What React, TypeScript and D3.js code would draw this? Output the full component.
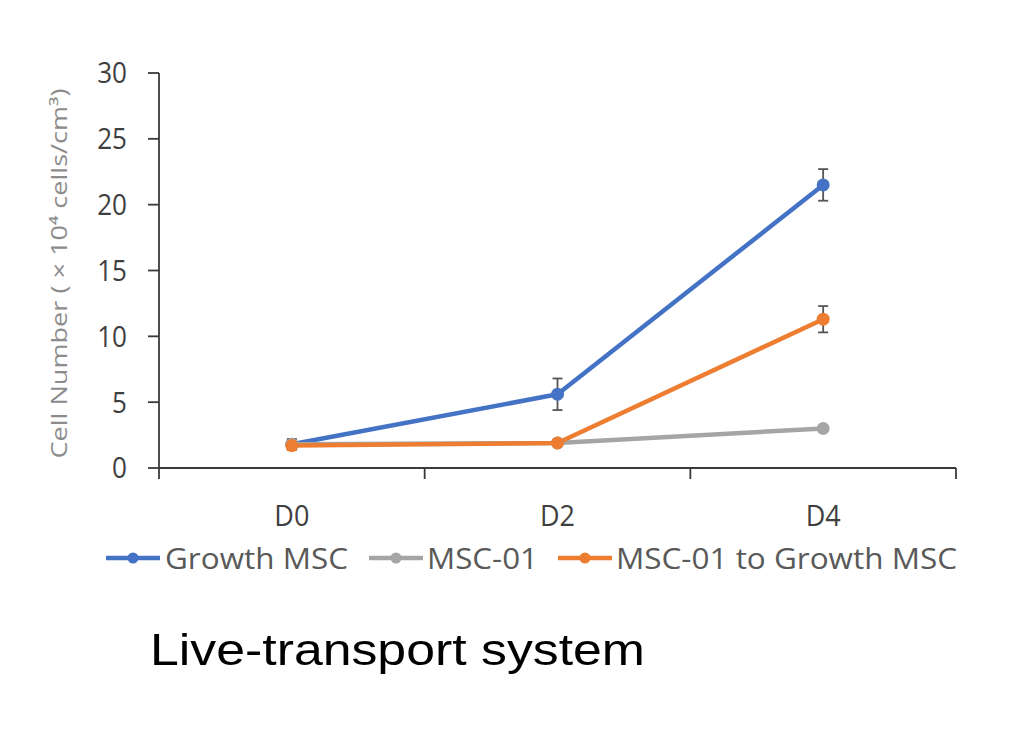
import React from "react";
import * as d3 from "d3";

const categories = ["D0", "D2", "D4"];
const seriesNames = ["Growth MSC", "MSC-01", "MSC-01 to Growth MSC"];
const seriesColors = ["#4472C4", "#A5A5A5", "#ED7D31"];
const growthMSC = [1.8, 5.6, 21.5];
const growthMSCErr = [0.4, 1.2, 1.2];
const msc01 = [1.8, 1.9, 3.0];
const msc01Err = [0.2, 0.2, 0.2];
const msc01ToGrowth = [1.7, 1.9, 11.3];
const msc01ToGrowthErr = [0.3, 0.2, 1.0];
const yTicks = [0, 5, 10, 15, 20, 25, 30];
const yLabel = "Cell Number ( \u00d7 10\u2074 cells/cm\u00b3)";
const title = "Live-transport system";

const series = [
  { name: seriesNames[0], color: seriesColors[0], values: growthMSC, err: growthMSCErr },
  { name: seriesNames[1], color: seriesColors[1], values: msc01, err: msc01Err },
  { name: seriesNames[2], color: seriesColors[2], values: msc01ToGrowth, err: msc01ToGrowthErr },
];

export default function App() {
  const W = 1024, H = 739;
  const x0 = 159, x1 = 956, yTop = 73, yBot = 468;
  const x = d3.scaleBand<string>().domain(categories).range([x0, x1]);
  const y = d3.scaleLinear().domain([0, 30]).range([yBot, yTop]);
  const cx = (c: string) => (x(c) as number) + x.bandwidth() / 2;
  const line = d3.line<number>().x((_, i) => cx(categories[i])).y((v) => y(v));
  const font = "Open Sans, sans-serif";
  const axisColor = "#3a3a3a";
  const tickColor = "#3f3f3f";

  const legendItems = [
    { lx: 106, tx: 165, tw: 183 },
    { lx: 369, tx: 427, tw: 111 },
    { lx: 558, tx: 616, tw: 341 },
  ];

  return (
    <svg width={W} height={H} style={{ position: "absolute", left: 0, top: 0, background: "#fff" }}>
      <rect x={0} y={0} width={W} height={H} fill="#fff" />
      {/* y axis */}
      <line x1={x0} x2={x0} y1={yTop} y2={yBot} stroke={axisColor} strokeWidth={1.8} />
      {yTicks.map((t) => (
        <g key={t}>
          <line x1={x0 - 11} x2={x0} y1={y(t)} y2={y(t)} stroke={axisColor} strokeWidth={1.8} />
          <text x={127} y={y(t) + 10.5} textAnchor="end" fontFamily={font} fontSize={29} fill={tickColor}
            transform={`translate(127, 0) scale(0.9, 1) translate(-127, 0)`}>
            {t}
          </text>
        </g>
      ))}
      {/* x axis */}
      <line x1={x0} x2={x1} y1={yBot} y2={yBot} stroke={axisColor} strokeWidth={1.8} />
      {[...categories.map((c) => x(c) as number), x1].map((p, i) => (
        <line key={i} x1={p} x2={p} y1={yBot} y2={yBot + 11} stroke={axisColor} strokeWidth={1.8} />
      ))}
      {categories.map((c) => (
        <text key={c} x={cx(c)} y={526} textAnchor="middle" fontFamily={font} fontSize={30} fill={tickColor}
          transform={`translate(${cx(c)}, 0) scale(0.9, 1) translate(${-cx(c)}, 0)`}>
          {c}
        </text>
      ))}
      {/* y label */}
      <text
        transform={`translate(67, ${(yTop + yBot) / 2 + 3}) rotate(-90)`}
        textAnchor="middle"
        fontFamily={font}
        fontSize={21}
        fill="#8c8c8c"
        textLength={370}
        lengthAdjust="spacingAndGlyphs"
      >
        {yLabel}
      </text>
      {/* series lines */}
      {series.map((s) => (
        <path key={s.name} d={line(s.values) as string} fill="none" stroke={s.color} strokeWidth={4.5} strokeLinejoin="round" />
      ))}
      {/* error bars */}
      {series.map((s) =>
        s.values.map((v, i) => {
          const px = cx(categories[i]);
          return (
            <g key={s.name + i} stroke="#555" strokeWidth={1.8}>
              <line x1={px} x2={px} y1={y(v - s.err[i])} y2={y(v + s.err[i])} />
              <line x1={px - 5} x2={px + 5} y1={y(v - s.err[i])} y2={y(v - s.err[i])} />
              <line x1={px - 5} x2={px + 5} y1={y(v + s.err[i])} y2={y(v + s.err[i])} />
            </g>
          );
        })
      )}
      {/* markers */}
      {series.map((s) =>
        s.values.map((v, i) => (
          <circle key={s.name + "m" + i} cx={cx(categories[i])} cy={y(v)} r={6.5} fill={s.color} />
        ))
      )}
      {/* legend */}
      {series.map((s, i) => (
        <g key={"lg" + s.name}>
          <line x1={legendItems[i].lx} x2={legendItems[i].lx + 54} y1={558} y2={558} stroke={s.color} strokeWidth={4.5} />
          <circle cx={legendItems[i].lx + 27} cy={558} r={5.5} fill={s.color} />
          <text x={legendItems[i].tx} y={569} fontFamily={font} fontSize={29} fill="#595959"
            textLength={legendItems[i].tw} lengthAdjust="spacingAndGlyphs">
            {s.name}
          </text>
        </g>
      ))}
      {/* title */}
      <text x={150} y={665} fontFamily="Liberation Sans, Arial, sans-serif" fontSize={45} fill="#000"
        textLength={495} lengthAdjust="spacingAndGlyphs">
        {title}
      </text>
    </svg>
  );
}
